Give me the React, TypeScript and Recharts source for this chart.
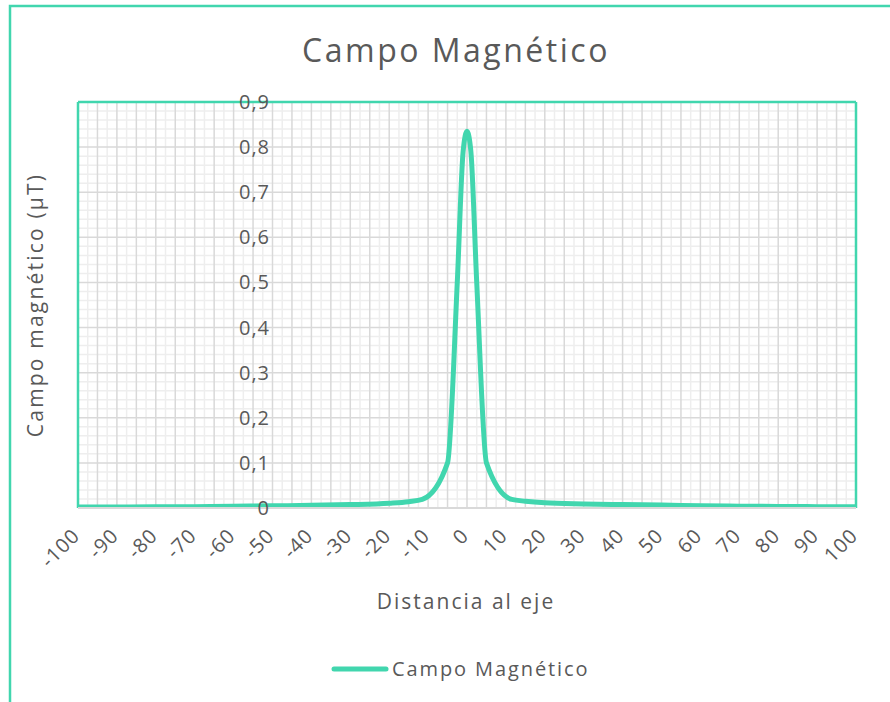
import React from "react";
import { LineChart, Line, XAxis, YAxis, ReferenceLine } from "recharts";

const distance = [-100, -90, -80, -70, -60, -50, -40, -30, -20, -15, -11.5, -5, -2.5, -1, 0, 1, 2.5, 5, 11.5, 15, 20, 30, 40, 50, 60, 70, 80, 90, 100];
const field = [0.002, 0.002, 0.0025, 0.003, 0.0038, 0.0048, 0.006, 0.0075, 0.0105, 0.014, 0.019, 0.1, 0.5, 0.79, 0.835, 0.79, 0.5, 0.1, 0.019, 0.015, 0.0115, 0.009, 0.0075, 0.0065, 0.005, 0.004, 0.0035, 0.003, 0.003];
const xTicks = [-100, -90, -80, -70, -60, -50, -40, -30, -20, -10, 0, 10, 20, 30, 40, 50, 60, 70, 80, 90, 100];
const yTicks = [0, 0.1, 0.2, 0.3, 0.4, 0.5, 0.6, 0.7, 0.8, 0.9];

const title = "Campo Magnético";
const xTitle = "Distancia al eje";
const yTitle = "Campo magnético (µT)";
const seriesName = "Campo Magnético";

const data = distance.map((x, i) => ({ x, y: field[i] }));

const GREEN = "#41d6ae";
const TEXT = "#595959";
const FONT = "'Open Sans', sans-serif";

const majorX: number[] = [];
const minorX: number[] = [];
for (let i = -39; i <= 39; i++) {
  const v = i * 2.5;
  if (i % 2 === 0) majorX.push(v);
  else minorX.push(v);
}
const majorY: number[] = [];
const minorY: number[] = [];
for (let i = 1; i < 45; i++) {
  const v = Math.round(i * 0.02 * 1000) / 1000;
  if (i % 5 === 0) majorY.push(v);
  else minorY.push(v);
}

const PLOT_BOTTOM = 508;

const XTick = (props: any) => {
  const { x, payload } = props;
  const ax = x + 3;
  const ay = PLOT_BOTTOM + 29;
  return (
    <text
      x={ax}
      y={ay}
      transform={`rotate(-45, ${ax}, ${ay})`}
      textAnchor="end"
      fill={TEXT}
      fontSize={20}
      fontFamily={FONT}
      letterSpacing={1}
    >
      {payload.value}
    </text>
  );
};

const YTick = (props: any) => {
  const { y, payload } = props;
  return (
    <text x={270} y={y + 7} textAnchor="end" fill={TEXT} fontSize={20} fontFamily={FONT} letterSpacing={1}>
      {String(payload.value).replace(".", ",")}
    </text>
  );
};

export default function App() {
  return (
    <div style={{ position: "absolute", left: 0, top: 0, width: 890, height: 702, background: "#fff", overflow: "hidden" }}>
      <LineChart width={890} height={702} data={data} margin={{ top: 102, left: 68, right: 34, bottom: 164 }}>
        {minorX.map((v) => (
          <ReferenceLine key={"mx" + v} x={v} stroke="#eeeeee" strokeWidth={1.5} />
        ))}
        {minorY.map((v) => (
          <ReferenceLine key={"my" + v} y={v} stroke="#eeeeee" strokeWidth={1.5} />
        ))}
        {majorX.map((v) => (
          <ReferenceLine key={"Mx" + v} x={v} stroke="#d9d9d9" strokeWidth={1.5} />
        ))}
        {majorY.map((v) => (
          <ReferenceLine key={"My" + v} y={v} stroke="#d9d9d9" strokeWidth={1.5} />
        ))}
        <ReferenceLine y={0.9} stroke={GREEN} strokeWidth={2.5} />
        <ReferenceLine x={-100} stroke={GREEN} strokeWidth={2.5} />
        <ReferenceLine x={100} stroke={GREEN} strokeWidth={2.5} />
        <XAxis
          dataKey="x"
          type="number"
          domain={[-100, 100]}
          ticks={xTicks}
          interval={0}
          height={30}
          tickLine={false}
          axisLine={{ stroke: "#d9d9d9", strokeWidth: 2 }}
          tick={XTick}
          allowDataOverflow
        />
        <YAxis
          type="number"
          domain={[0, 0.9]}
          ticks={yTicks}
          interval={0}
          width={10}
          tickLine={false}
          axisLine={false}
          tick={YTick}
          allowDataOverflow
        />
        <Line
          type="monotone"
          dataKey="y"
          name={seriesName}
          stroke={GREEN}
          strokeWidth={5}
          dot={false}
          isAnimationActive={false}
        />
      </LineChart>
      <svg width={890} height={702} style={{ position: "absolute", left: 0, top: 0, pointerEvents: "none" }}>
        <rect x={10} y={6} width={900} height={720} fill="none" stroke={GREEN} strokeWidth={2.5} />
        <text x={456} y={62} textAnchor="middle" fill={TEXT} fontSize={32} fontFamily={FONT} letterSpacing={2.5}>
          {title}
        </text>
        <text x={466} y={609} textAnchor="middle" fill={TEXT} fontSize={21} fontFamily={FONT} letterSpacing={2}>
          {xTitle}
        </text>
        <text
          x={0}
          y={0}
          transform="translate(43, 305) rotate(-90)"
          textAnchor="middle"
          fill={TEXT}
          fontSize={21}
          fontFamily={FONT}
          letterSpacing={2.2}
        >
          {yTitle}
        </text>
        <line x1={334} y1={669} x2={386} y2={669} stroke={GREEN} strokeWidth={5} strokeLinecap="round" />
        <text x={392} y={676} fill={TEXT} fontSize={20} fontFamily={FONT} letterSpacing={1.9}>
          {seriesName}
        </text>
      </svg>
    </div>
  );
}
